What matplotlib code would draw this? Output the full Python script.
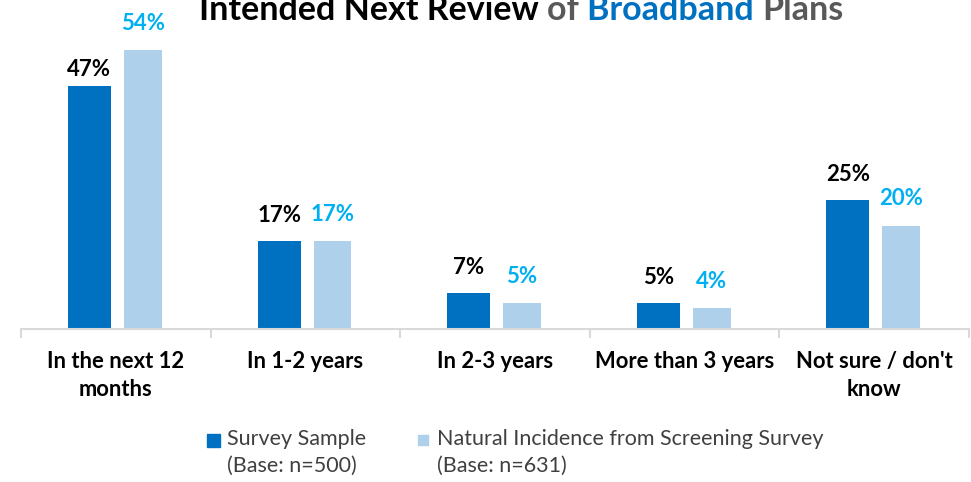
import matplotlib
matplotlib.use("Agg")
import matplotlib.pyplot as plt
from matplotlib.patches import Rectangle
import numpy as np

plt.rcParams['font.family'] = ['Lato', 'DejaVu Sans']

categories = ["In the next 12\nmonths", "In 1-2 years", "In 2-3 years",
              "More than 3 years", "Not sure / don't\nknow"]
survey_sample = [47, 17, 7, 5, 25]
natural_incidence = [54, 17, 5, 4, 20]
series_names = ["Survey Sample\n(Base: n=500)",
                "Natural Incidence from Screening Survey\n(Base: n=631)"]

DARK = "#0070C0"
LIGHT = "#AED0EB"
LABEL_LIGHT = "#00B0F0"
AXIS_GRAY = "#D9D9D9"

W, H = 971, 482
fig = plt.figure(figsize=(W / 100, H / 100), dpi=100)
ax = fig.add_axes([21 / W, (H - 329) / H, 948 / W, 309.6 / H])

x = np.arange(len(categories))
b1 = ax.bar(x - 0.139, survey_sample, width=0.227, color=DARK)
b2 = ax.bar(x + 0.143, natural_incidence, width=0.200, color=LIGHT)

ax.set_xlim(-0.5, len(categories) - 0.5)
ax.set_ylim(0, 60)

# value labels above each bar
for rect, v in zip(b1, survey_sample):
    off = 12.5 if v == max(survey_sample) else 18.5
    ax.annotate(f"{v}%", (rect.get_x() + rect.get_width() / 2, v),
                xytext=(0, off), textcoords="offset points",
                ha="center", va="center", fontsize=16, fontweight="bold",
                color="black")
for rect, v in zip(b2, natural_incidence):
    ax.annotate(f"{v}%", (rect.get_x() + rect.get_width() / 2, v),
                xytext=(0, 19.5), textcoords="offset points",
                ha="center", va="center", fontsize=16, fontweight="bold",
                color=LABEL_LIGHT)

for s in ["top", "right", "left"]:
    ax.spines[s].set_visible(False)
ax.spines["bottom"].set_color(AXIS_GRAY)
ax.spines["bottom"].set_linewidth(1.5)
ax.set_yticks([])
ax.set_xticks(x)
ax.set_xticklabels(categories, fontsize=15.8, fontweight="bold",
                   linespacing=1.45, va="top")
ax.tick_params(axis="x", which="major", length=0, pad=15.5)
ax.set_xticks(np.arange(-0.5, len(categories)), minor=True)
ax.tick_params(axis="x", which="minor", length=6.5, width=1.5,
               color=AXIS_GRAY)

# title with coloured words
title_parts = [("Intended Next Review ", "black"), ("of ", "#595959"),
               ("Broadband ", DARK), ("Plans", "#595959")]
renderer = fig.canvas.get_renderer()
texts = []
for s, c in title_parts:
    t = fig.text(0, 0, s, fontsize=24.5, fontweight="bold", color=c,
                 ha="left", va="baseline")
    texts.append(t)
widths = [t.get_window_extent(renderer).width for t in texts]
total = sum(widths)
xpos = 521 - total / 2
for t, w in zip(texts, widths):
    t.set_position((xpos / W, (H - 20) / H))
    xpos += w

# legend
legend_items = [(207, 13, DARK, 227), (418, 10, LIGHT, 437)]
for (sx, size, col, tx), name in zip(legend_items, series_names):
    cy = 440
    fig.patches.append(Rectangle((sx / W, (H - cy - size / 2) / H),
                                 size / W, size / H, color=col,
                                 transform=fig.transFigure, figure=fig))
    fig.text(tx / W, (H - 429) / H, name, fontsize=15.5, color="#404040",
             ha="left", va="top", linespacing=1.45)

fig.savefig("out.png", dpi=100)
